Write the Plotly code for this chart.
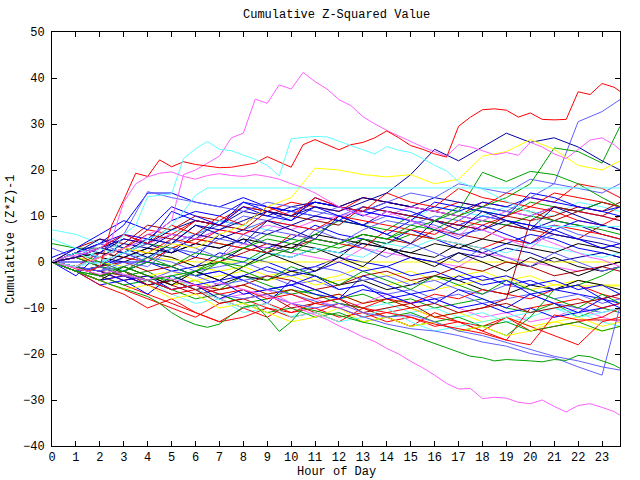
import plotly.graph_objects as go

# ---------------- data ----------------
HOURS = [0, 1, 2, 3, 4, 5, 6, 7, 8, 9, 10, 11, 12, 13, 14, 15, 16, 17, 18, 19, 20, 21, 22, 23, 23.75]
HALF = [0, 0.5, 1, 1.5, 2, 2.5, 3, 3.5, 4, 4.5, 5, 5.5, 6, 6.5, 7, 7.5, 8, 8.5, 9, 9.5,
        10, 10.5, 11, 11.5, 12, 12.5, 13, 13.5, 14, 14.5, 15, 15.5, 16, 16.5, 17, 17.5, 18, 18.5, 19, 19.5,
        20, 20.5, 21, 21.5, 22, 22.5, 23, 23.5, 23.75]

# half-hourly series (prominent lines)
mag_top = [0, -0.5, -1, 0, 1, 2, 3, 4, 6, 7, 9, 19, 20, 21.5, 23, 27, 28, 35.4, 34.5, 38.5,
           37.6, 41.2, 39.2, 37.6, 35.3, 34, 31.6, 30, 28.6, 27.4, 26.2, 25, 24, 23, 25.5, 25, 24.2, 23.3, 23.8, 23.2,
           26, 25, 23.5, 22.5, 24.5, 26.5, 27, 25.5, 24.4]
red_top = [0, -0.5, -1.5, -2, -1, 8, 13.5, 19.3, 18.6, 22.2, 20.7, 21.8, 21.2, 20.9, 20.5, 20.6, 21, 21.5, 22.9, 21.8,
           20.6, 25.5, 26.6, 25.5, 24.4, 25.5, 26, 27, 28.5, 27, 25.3, 24.5, 23.5, 22.8, 29.5, 31.5, 33.1, 33.3, 33, 31.5,
           32.4, 31, 30.9, 31, 37, 36.4, 38.8, 38, 37.1]
cyan_top = [0, 1, 2, 1, 3, 2, 6, 8, 14.2, 14.5, 14.8, 22.5, 24.6, 26.2, 24.5, 24.2, 23.2, 22.3, 21, 18.7,
            26.8, 27, 27.3, 27.2, 26.2, 25.3, 24.4, 23.5, 25.1, 24.3, 23.8, 22.5, 21, 19.8, 17.5, 16.5, 15.8, 14.5, 13.3, 12,
            10.7, 7.7, 7.7, 7.7, 7.7, 7.7, 7.7, 7.7, 7.7]
cyan_flat = [0, -0.5, -1, 0, -0.5, 1, 2, 3, 5, 6, 8, 11, 14.5, 16.1, 16.1, 16.1, 16.1, 16.1, 16.1, 16.1,
             16.1, 16.1, 16.1, 16.1, 16.1, 16.1, 16.1, 16.1, 16.1, 16.1, 16.1, 16.1, 16.1, 16.1, 16.1, 16.1, 16.1, 16.1, 16.1, 16.1,
             16.1, 16.1, 16.1, 16.1, 16.1, 16.1, 16.1, 16.1, 16.1]
mag_2 = [0, 1, 1.5, 2, 3, 5, 13, 17, 18.5, 19.3, 19.6, 18.6, 18, 18.8, 19.2, 18.8, 18.6, 19, 18.6, 18,
         17, 16.2, 15, 13.5, 12, 11, 10.2, 9.5, 11, 10, 9, 8, 7.5, 6.5, 5.5, 8, 7, 6, 5, 4,
         3, 5, 4, 3, 2, 1, 0.5, -0.5, -1]
mag_bot = [0, -0.7, -1.4, -2, -2.7, -2, -2.7, -3.4, -4, -3, -3.7, -4.4, -5, -5.7, -4.5, -5.2, -6, -6.7, -7.5, -8.2,
           -9, -10.5, -11.5, -12.5, -13.9, -15, -16.3, -17.3, -18.8, -20, -21.6, -23, -24.6, -26.4, -27.6, -27.5, -29.7, -29.4, -29.6, -30.5,
           -30.8, -30, -31.4, -32.6, -31.2, -30.8, -31.6, -32.5, -33.3]
green_low = [0, -1, -2, -3, -4, -5, -5.8, -6.7, -7.5, -9, -11, -12.5, -13.6, -14.2, -13.5, -11.5, -9.8, -9.3, -12, -15.1,
             -13, -10, -10.6, -11.2, -11.6, -12.4, -13.1, -13.6, -14.3, -15, -15.8, -16.8, -17.7, -18.7, -19.6, -20.5, -20.8, -21.5, -21.2, -21.3,
             -21.5, -21.7, -21.2, -21.4, -20.3, -20.6, -21.5, -22.4, -23.1]

# hourly series
lb_low1 = [0, -2, -1, -3, -4, -2, -3, -5, -4, -6, -7, -8.5, -10, -11.9, -13.5, -14.5, -15, -16, -17.4, -18.3, -19.9, -20.8, -22.8, -24.6, -9.7]
lb_low2 = [0, -1, -3, -2, -4, -6, -5, -7, -8, -7, -9, -10, -9, -11, -12, -11.5, -13, -15, -16, -17.5, -19, -20.5, -21.5, -22.8, -23.5]
lb_top = [0, -1, -2, 0, -1, 3, 2, 5, 4, 7, 6, 5, 4, 7, 9, 8, 10, 9, 12, 11, 14, 17, 30.5, 32.7, 35.3]
green_top = [0, -2, -3, -1, -3, -4, -2, 1, 0, 3, 2, 5, 4, 6, 5, 8, 7, 10, 12, 14, 17, 24.8, 24, 21.5, 29.5]
red_flat = [0, -1, -3, -2, -4, -6, -5, -7, -6, -8, -7, -9, -8, -10, -11, -12, -13.5, -14.5, -15.5, -17, -18, -11.5, -12.6, -12.6, -12.6]
blue_b1 = [0, 1, 3, 2, 5, 4, 8, 7, 9, 11, 10, 12, 11, 13, 15, 19, 24.5, 22, 25, 28, 26, 27, 25, 22, 20]
yellow_y1 = [0, -1, 1, 3, 2, 4, 3, 6, 8, 12, 14, 20.4, 20, 19, 18.5, 19, 17, 18, 23, 24, 26.6, 24.5, 21, 20, 22]
green_h = [0, -1, -3, -2, -4, -3, -2, 0, -1, 1, 3, 2, 4, 6, 5, 7, 9, 11, 19.5, 17.5, 19.7, 19, 17, 14, 12]

c01 = [0, 2, 4, 3, 7, 6, 9, 8, 12, 11, 13, 12, 11, 14, 13, 12, 11, 13, 12, 15, 14, 13, 17, 16, 14]
c02 = [0, -2, -1, -3, -2, -5, -4, -6, -3, -5, -7, -6, -8, -7, -9, -8, -10, -9, -8, -10, -11, -9, -12, -10, -11]
c03 = [0, 1, -1, 2, 0, 3, 1, 6, 4, 3, 5, 8, 6, 5, 4, 7, 5, 3, 2, 4, 6, 5, 3, 2, 1]
c04 = [0, -1, -3, -2, -4, -6, -5, -8, -7, -6, -9, -8, -10, -9, -7, -9, -8, -10, -12, -11, -13, -12, -10, -12, -13]
c05 = [0, -1, -3, -5, -4, -7, -9, -8, -11, -10, -12, -9, -8, -10, -9, -11, -10, -12, -11, -13, -12, -10, -11, -13, -14]
c06 = [0, 2, 1, 3, 2, 1, -1, -2, -1, -3, -2, -4, -3, -1, -3, -2, -4, -3, -2, -4, -3, -5, -4, -5, -5]
c07 = [0, -1, 1, 0, 2, 1, -1, 0, 3, 2, 4, 3, 1, 5, 3, 2, 1, 4, 2, 0, -1, 1, -1, -2, -1]
c08 = [0, 3, 5, 4, 8, 7, 10, 9, 12, 11, 10, 13, 12, 14, 13, 12, 11, 10, 13, 12, 11, 9, 11, 10, 12]
c09 = [0, 2, 1, 4, 3, 6, 5, 9, 8, 12, 11, 13, 12, 14, 13, 12, 11, 10, 9, 8, 7, 9, 8, 6, 5]
c10 = [0, -1, -2, 1, 0, -1, -3, -2, -4, -3, -5, -4, -6, -5, -7, -6, -8, -7, -9, -8, -7, -9, -10, -11, -10]
c11 = [0, -2, -4, -6, -8, -10, -12, -9, -8, -10, -11, -9, -10, -12, -11, -10, -12, -13, -14, -12, -15, -14, -13, -12, -10]
c12 = [4, 3, 3, 2, 4, 3, 5, 4, 3, 6, 5, 4, 3, 5, 4, 6, 5, 7, 9, 8, 10, 9, 8, 7, 6]
c13 = [0, -1, -3, -2, 0, -2, -1, 2, 1, 0, -2, -1, 1, 0, -1, -3, -2, -4, -3, -5, -4, -6, -7, -8, -9]
c14 = [0, 1, 0, 2, 1, 3, 2, 1, 4, 3, 2, 1, 0, 3, 2, 1, 0, -1, 2, 1, 0, -1, -2, -1, 0]
c15 = [7, 6, 4, 3, 5, 7, 6, 9, 8, 7, 10, 9, 8, 11, 10, 9, 12, 11, 10, 12, 11, 10, 13, 12, 11]
c16 = [0, -1, -2, -4, -3, -5, -4, -6, -5, -7, -6, -8, -7, -9, -8, -10, -12, -11, -13, -12, -14, -13, -14, -15, -14]
c17 = [0, -2, -1, -3, -5, -4, -6, -5, -3, -4, -2, -3, -5, -4, -6, -5, -3, -4, -6, -7, -5, -6, -4, -5, -6]
c18 = [0, 1, -1, 0, -2, -1, 1, 0, 2, 4, 3, 5, 4, 6, 5, 4, 7, 6, 5, 8, 7, 6, 5, 8, 7]
c19 = [0, -2, -1, 1, 3, 2, 4, 3, 5, 2, 1, 3, 2, 4, 3, 1, 0, 2, 1, 3, 2, 0, 1, 2, 1]
c20 = [0, 1, 3, 2, 4, 6, 5, 7, 10, 9, 8, 7, 9, 8, 10, 9, 8, 6, 7, 5, 4, 6, 5, 3, 4]
c21 = [0, -1, -3, -5, -7, -9, -11, -13, -12, -10, -12, -11, -9, -10, -8, -9, -7, -8, -6, -7, -8, -6, -5, -7, -8]
c22 = [0, -2, -3, -5, -4, -6, -5, -7, -9, -8, -6, -7, -9, -10, -12, -11, -13, -12, -14, -13, -15, -14, -13, -15, -14]
c23 = [0, 2, 4, 6, 5, 9, 11, 10, 13, 12, 11, 10, 9, 12, 11, 10, 12, 11, 13, 12, 14, 13, 12, 11, 12]
c24 = [0, -1, 2, 1, 0, 3, 5, 4, 3, 2, 6, 5, 4, 3, 7, 6, 5, 4, 3, 5, 4, 8, 7, 6, 5]
c25 = [0, 1, 0, -1, 1, 0.5, 0, 0, 0, 0, 0, 0, 0, 0, 0, 0, 0, 0, 0, 0, 0, 0, 0, 0, 0]
c26 = [0, -1, -2, -1, -3, -2, -4, -3, -2, -4, -3, -5, -4, -3, -5, -4, -6, -5, -4, -3, -6, -5, -5.2, -5.2, -5.2]
c27 = [0, 0, 0, 0, 0, -1, -3, -2, -4, -6, -5, -7, -8, -6, -7, -9, -8, -10, -9, -11, -10, -12, -11, -10, -9]
c28 = [0, 3, 2, 5, 4, 7, 9, 8, 11, 10, 12, 13, 12, 11, 13, 12, 14, 13, 12, 11, 10, 12, 11, 13, 12]
c29 = [0, -2, -4, -3, -5, -7, -6, -8, -10, -9, -11, -10, -12, -11, -13, -12, -14, -13, -15, -17, -10, -9, -8, -10, -9]
c30 = [0, -1, -3, -2, -4, -6, -8, -7, -9, -11, -10, -12, -11, -13, -12, -14, -13, -15, -14, -16, -12, -6, -5, -3, -1]
c31 = [0, 2, 3, 5, 4, 6, 5, 7, 6, 8, 7, 9, 10, 11, 10, 12, 11, 10, 9, 11, 10, 12, 11, 10, 9]
c32 = [0, -1, 0, 2, 1, 3, 2, 1, 0, 2, 1, 3, 2, 1, 4, 3, 5, 4, 3, 2, 4, 3, 2, 1, 2]
c33 = [0, -1, -2, -4, -3, -5, -7, -6, -5, -3, -4, -6, -5, -3, -2, -4, -3, -1, -2, 0, -1, -3, -2, -1, -2]
c34 = [0, 2, 1, 3, 5, 4, 6, 8, 7, 9, 11, 10, 12, 11, 13, 15, 14, 17, 16, 15, 18, 17, 16, 15, 17]
c35 = [0, 1, 2, 1, 3, 2, 4, 3, 5, 4, 3, 6, 5, 4, 3, 2, 4, 3, 5, 4, 3, 2, 4, 3, 2]
c36 = [0, -2, -4, -3, -5, -4, -2, -4, -3, -1, -3, -2, 0, -2, -1, 1, 0, -2, -4, -3, -5, -4, -6, -5, -7]
c37 = [0, 1, -1, -2, 0, -1, 2, 1, 3, 5, 4, 6, 9, 8, 7, 10, 9, 12, 11, 10, 13, 12, 11, 13, 12]
c38 = [0, 1, 3, 5, 4, 2, 6, 5, 7, 6, 8, 10, 9, 8, 11, 10, 9, 8, 7, 9, 8, 6, 5, 4, 3]
c39 = [0, -1, 1, 3, 2, 5, 4, 7, 6, 9, 8, 7, 10, 9, 8, 7, 6, 9, 8, 10, 12, 11, 9, 8, 10]
c40 = [0, -1, -2, -1, 1, 0, -2, -1, 0, -2, -3, -1, -2, -4, -3, -5, -4, -6, -7, -5, -6, -8, -7, -9, -8]
c41 = [0, -1, -2, -3, -4, -3, -5, -6, -5, -7, -6, -8, -7, -9, -8, -10, -9, -11, -10, -8, 9, 10, 12, 11, 13]
c43 = [0, 2, 4, 8, 15, 15, 13, 12, 14, 12, 11, 13, 12, 10, 12, 11, 9, 8, 10, 9, 8, 7, 9, 8, 7]
c44 = [0, 1, 3, 6, 15.3, 14, 13, 12, 11, 13, 12, 11, 10, 12, 11, 10, 9, 8, 10, 9, 7, 8, 6, 5, 4]
c45 = [0, -3, 2, 6, 4, 11, 9, 8, 12, 10, 9, 14, 12, 11, 10, 9, 13, 12, 11, 10, 15, 14, 12, 11, 10]
c46 = [0, 2, -1, 3, 6, 5, 9, 8, 7, 11, 10, 9, 8, 12, 11, 10, 9, 8, 7, 10, 9, 12, 11, 10, 9]
c47 = [0, -2, -5, -4, -7, -3, -5, -8, -6, -9, -4, -6, -8, -3, -5, -7, -9, -6, -8, -10, -7, -9, -11, -8, -10]
c48 = [3, 1, 4, 2, 0, 5, 3, 1, 6, 4, 2, 7, 5, 3, 1, 4, 2, 0, 3, 1, -1, 2, 0, -2, -1]
c49 = [0, -2, -5, -7, -10, -8, -11, -13, -10, -12, -9, -11, -13, -10, -12, -14, -11, -13, -15, -12, -14, -16, -18, -13, -12]
c50 = [0, 2, 0, -2, 1, -1, -3, 0, -2, -4, -1, -3, -5, -2, -4, -6, -3, -5, -7, -4, -6, -8, -10, -7, -9]
c51 = [0, -2, -4, -1, -3, -5, -2, -4, -1, 2, 0, -2, 1, -1, 3, 1, -1, 2, 0, -2, 1, -1, -3, -1, 0]
c52 = [0, 2, 5, 3, 1, 4, 8, 6, 4, 9, 7, 5, 10, 8, 6, 4, 9, 7, 11, 9, 7, 12, 10, 8, 7]
c53 = [1, 3, 6, 9, 7, 12, 10, 8, 13, 11, 9, 12, 10, 8, 6, 9, 7, 5, 8, 6, 4, 7, 5, 3, 4]
c54 = [0, -2, -4, -6, -5, -8, -7, -10, -9, -11, -13, -12, -10, -13, -12, -14, -13, -15, -14, -16, -15, -13, -12, -14, -13]
c55 = [5, 3, 1, -2, -4, -3, -6, -8, -10, -9, -12, -11, -13, -12, -10, -13, -15, -14, -13, -12, -11, -10, -12, -11, -10]
c56 = [0, 1, 3, 6, 4, 8, 6, 10, 8, 12, 10, 14, 12, 11, 15, 13, 12, 16, 14, 13, 12, 15, 14, 13, 12]
c57 = [0, -1, -2, -4, -3, -6, -5, -4, -7, -6, -5, -3, -6, -5, -8, -7, -6, -3, -5, -4, -7, -6, -5, -8, -7]
c58 = [0, -1, -3, -2, -5, -4, -6, -9, -8, -7, -10, -9, -8, -11, -10, -9, -12, -11, -10, -9, -11, -10, -9, -8, -7]

# ---------------- style ----------------
RED, GREEN, BLUE = "#ff0000", "#00a000", "#0000ff"
MAGENTA, CYAN, YELLOW = "#ff60ff", "#60ffff", "#ffff00"
BLACK, DKRED, DKBLUE, LTBLUE = "#000000", "#b00000", "#0000a0", "#6060ff"

series = [
    (HOURS, c01, RED), (HOURS, c02, GREEN), (HOURS, c03, BLUE), (HOURS, c04, MAGENTA),
    (HOURS, c05, CYAN), (HOURS, c06, YELLOW), (HOURS, c07, BLACK), (HOURS, c08, DKRED),
    (HOURS, c09, DKBLUE), (HOURS, c10, LTBLUE), (HOURS, c11, RED), (HOURS, c12, GREEN),
    (HOURS, c13, BLUE), (HOURS, c14, MAGENTA), (HOURS, c15, CYAN), (HOURS, c16, YELLOW),
    (HOURS, c17, BLACK), (HOURS, c18, DKRED), (HOURS, c19, DKBLUE), (HOURS, c20, LTBLUE),
    (HOURS, c21, RED), (HOURS, c22, GREEN), (HOURS, c23, BLUE), (HOURS, c24, RED),
    (HOURS, c25, YELLOW), (HOURS, c26, YELLOW), (HOURS, c27, BLUE), (HOURS, c28, DKBLUE),
    (HOURS, c29, RED), (HOURS, c30, GREEN), (HOURS, c31, MAGENTA), (HOURS, c32, CYAN),
    (HOURS, c33, DKRED), (HOURS, c34, LTBLUE), (HOURS, c35, BLACK), (HOURS, c36, BLUE),
    (HOURS, c37, GREEN), (HOURS, c38, DKBLUE), (HOURS, c39, RED), (HOURS, c40, LTBLUE),
    (HOURS, c41, DKRED), (HOURS, c43, BLUE), (HOURS, c44, LTBLUE),
    (HOURS, c45, BLUE), (HOURS, c46, DKRED), (HOURS, c47, BLUE), (HOURS, c48, LTBLUE),
    (HOURS, c49, RED), (HOURS, c50, GREEN), (HOURS, c51, BLACK), (HOURS, c52, DKBLUE),
    (HOURS, c53, BLUE), (HOURS, c54, YELLOW), (HOURS, c55, CYAN), (HOURS, c56, RED),
    (HOURS, c57, BLUE), (HOURS, c58, DKRED),
    (HOURS, lb_low1, LTBLUE), (HOURS, lb_low2, LTBLUE), (HOURS, lb_top, LTBLUE),
    (HOURS, green_top, GREEN), (HOURS, red_flat, RED), (HOURS, blue_b1, DKBLUE),
    (HOURS, yellow_y1, YELLOW), (HOURS, green_h, GREEN),
    (HALF, mag_top, MAGENTA), (HALF, red_top, RED), (HALF, cyan_top, CYAN),
    (HALF, cyan_flat, CYAN), (HALF, mag_2, MAGENTA), (HALF, mag_bot, MAGENTA),
    (HALF, green_low, GREEN),
]

FONT = "Liberation Mono"
FS = 12

fig = go.Figure()
for xs, ys, col in series:
    fig.add_trace(go.Scatter(x=xs, y=ys, mode="lines",
                             line=dict(color=col, width=1), hoverinfo="skip"))

axis_common = dict(showgrid=False, zeroline=False, showline=True, linecolor="black",
                   linewidth=1, mirror="allticks", ticks="inside", ticklen=5,
                   tickcolor="black", tickwidth=1, automargin=False,
                   tickfont=dict(family=FONT, size=FS, color="black"))

fig.update_layout(
    width=640, height=480,
    margin=dict(l=52, r=20, t=32, b=34, autoexpand=False),
    paper_bgcolor="white", plot_bgcolor="white",
    showlegend=False,
    font=dict(family=FONT, size=FS, color="black"),
    xaxis=dict(range=[0, 23.75], tickmode="linear", tick0=0, dtick=1, **axis_common),
    yaxis=dict(range=[-40, 50], tickmode="linear", tick0=-40, dtick=10,
               ticklabelstandoff=4, **axis_common),
    annotations=[
        dict(text="Cumulative Z-Squared Value", xref="paper", yref="paper",
             x=0.5, y=1.041, xanchor="center", yanchor="middle", showarrow=False,
             font=dict(family=FONT, size=FS)),
        dict(text="Hour of Day", xref="paper", yref="paper",
             x=0.5, y=-0.063, xanchor="center", yanchor="middle", showarrow=False,
             font=dict(family=FONT, size=FS)),
        dict(text="Cumulative (Z*Z)-1", xref="paper", yref="paper",
             x=-0.072, y=0.5, xanchor="center", yanchor="middle", textangle=-90,
             showarrow=False, font=dict(family=FONT, size=FS)),
    ],
)

# remove the default 8px page margin so the 640x480 figure fills the window
fig.write_html("out.html", config={"displayModeBar": False},
               post_script="document.body.style.margin='0';")
